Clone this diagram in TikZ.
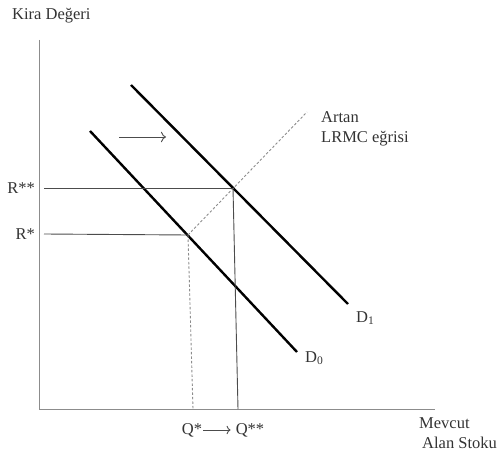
\documentclass[tikz,border=0pt]{standalone}
\usepackage{fontspec}
\setmainfont{Liberation Serif}
\usepackage{tikz}
\usetikzlibrary{arrows.meta,calc,positioning}
\definecolor{axisgray}{gray}{0.55}
\definecolor{textgray}{gray}{0.2}

\begin{document}
\begin{tikzpicture}[x=1pt,y=-1pt,
    font=\fontsize{16.5}{20}\selectfont,
    lbl/.style={text=textgray, inner sep=1pt},
    demand/.style={line width=2.4pt, black},
    guide/.style={line width=0.9pt, black!70},
    lrmc/.style={line width=0.9pt, axisgray, dash pattern=on 2.5pt off 2pt}]
        \useasboundingbox (0,0) rectangle (499,460);
        % axes
        \coordinate (top) at (39,40);
        \coordinate (origin) at (39,409);
        \coordinate (xend) at (435,409);
        \draw[line width=0.9pt, axisgray] (top) -- (origin) -- (xend);
        \node[lbl, anchor=west] (ylabel) at (11,16) {Kira Değeri};
        \node[lbl, anchor=north west, align=left] (xlabel) at (418,416) {Mevcut\\\hspace{3pt}Alan Stoku};
        % demand curves
        \coordinate (d1start) at (131,85);
        \coordinate (d1end) at (348,304);
        \coordinate (d0start) at (90,131);
        \coordinate (d0end) at (297,352);
        \draw[demand] (d1start) -- (d1end);
        \draw[demand] (d0start) -- (d0end);
        \node[lbl, anchor=west] (D1) at (355,318) {D\textsubscript{1}};
        \node[lbl, anchor=west] (D0) at (304,358) {D\textsubscript{0}};
        % equilibria
        \coordinate (e1) at (233,188);
        \coordinate (e0) at (188,235);
        \coordinate (lrmcend) at (307,112);
        \draw[lrmc] (e0) -- (lrmcend);
        \node[lbl, anchor=north west, align=left] (lrmclabel) at (320,110) {Artan\\LRMC eğrisi};
        \node[lbl, anchor=east] (R2) at (36,188) {R**};
        \node[lbl, anchor=east] (R1) at (36,234) {R*};
        \draw[guide] (R2.east) ++(8,0) coordinate (r2a) (r2a) -- (e1);
        \draw[guide] (R1.east) ++(8,0) coordinate (r1a) (r1a) -- (e0);
        \coordinate (q2foot) at (238,409);
        \coordinate (q1foot) at (193,409);
        \draw[guide] (e1) -- (q2foot);
        \draw[lrmc] (e0) -- (q1foot);
        \node[lbl] (Q1) at (192,430) {Q*};
        \node[lbl] (Q2) at (250,430) {Q**};
        \draw[guide, -{To[length=4pt]}] (Q1.east) -- ([xshift=-4pt]Q2.west);
        % shift arrow
        \coordinate (sa) at (119,137);
        \coordinate (sb) at (166,137);
        \draw[guide, -{To[length=5pt]}] (sa) -- (sb);
      \end{tikzpicture}
\end{document}
